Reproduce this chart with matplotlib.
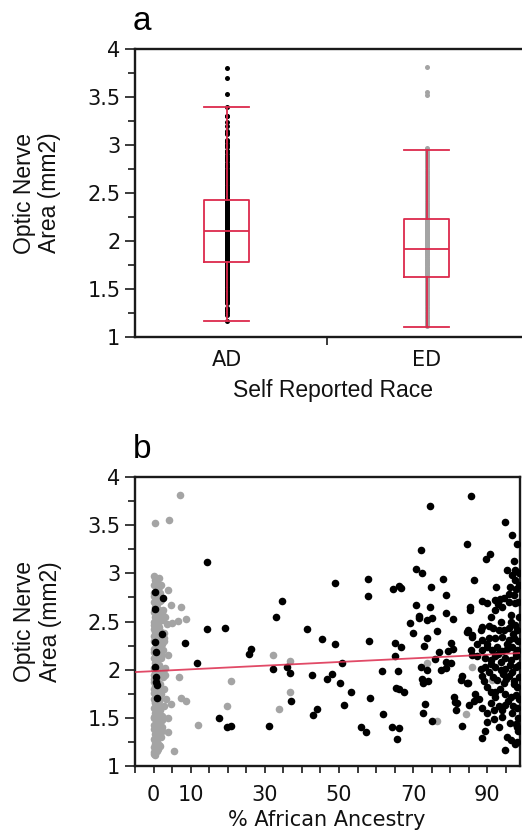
import matplotlib
matplotlib.use("Agg")
import matplotlib.pyplot as plt
from matplotlib.ticker import MultipleLocator, FormatStrFormatter
import numpy as np

# self reported race groups (panel a) and box statistics
groups = ["AD", "ED"]
box_whislo = [1.17, 1.10]
box_q1 = [1.78, 1.63]
box_med = [2.10, 1.92]
box_q3 = [2.43, 2.23]
box_whishi = [3.40, 2.95]

# AD participants (black): % African ancestry, optic nerve area
ad_x = [0.4, 2.6, 0.4, 2.2, 0.4, 0.7, 0.4, 0.6, 0.7, 1.0, 0.9,
        8.5, 11.6, 14.5, 14.5, 19.3, 17.6, 19.7, 20.8,
        25.8, 26.3, 31.2, 32.3, 33.0, 34.6, 36.1, 36.7, 37.1, 41.5, 42.7, 43.0, 44.2, 45.5, 46.9, 48.2, 48.9, 48.9,
        50.3, 50.9, 51.4, 53.3, 56.0, 57.4, 57.7, 57.8, 58.1, 58.3, 61.7, 61.9, 64.2, 64.7, 65.1, 65.1, 65.3, 65.6,
        66.0, 66.2, 66.2, 66.2, 66.6, 66.7, 67.5, 69.1,
        70.0, 70.9, 70.9, 71.6, 71.6, 72.0, 72.2, 72.4, 72.5, 72.6, 72.6, 72.8, 73.2, 73.6, 73.8, 73.8, 73.9, 74.5,
        74.5, 74.9, 75.2, 75.2, 75.8, 76.3,
        77.0, 77.4, 78.0, 78.8, 78.8, 78.8, 78.8, 79.4, 80.1, 80.3, 80.7, 80.8, 81.0, 81.2, 81.5,
        83.0, 84.4, 84.4, 86.0, 85.7, 94.9, 96.7,
        84.6, 97.9, 90.7, 89.7, 97.2, 95.4, 97.5, 96.7, 86.4, 97.5, 96.0, 97.6, 92.4, 88.6, 90.0, 92.2, 93.4, 94.5,
        93.0, 94.0, 95.8, 97.4, 95.8, 97.2, 85.3, 85.3, 92.1, 96.3, 88.6, 88.2, 90.4, 91.5, 93.1, 84.9, 86.0, 94.5,
        95.8, 97.5, 98.1, 90.4, 92.2, 94.0, 95.8, 97.2, 88.6, 87.3, 85.5, 88.6, 90.0, 91.3, 92.7, 94.0, 95.4, 96.7,
        98.1, 86.0, 87.3, 89.5, 90.9, 92.2, 93.6, 94.9, 96.3, 97.6, 88.2, 89.5, 90.4, 92.2, 93.6, 94.9, 96.7, 97.6,
        83.1, 84.9, 88.6, 89.1, 90.0, 92.7, 94.5, 95.8, 97.2, 98.1, 86.8, 87.7, 86.4, 90.9, 92.2, 94.9, 96.3, 97.6,
        81.9, 85.1, 88.6, 90.0, 90.9, 93.1, 94.0, 94.9, 96.7, 98.1, 83.1, 90.0, 91.8, 97.6, 98.1, 89.5, 88.6, 95.4,
        96.3, 98.1, 97.5, 94.8, 93.1, 93.9,
        98.5, 98.6, 98.4, 98.5, 98.3, 98.6, 98.4, 97.0, 96.0, 93.5, 91.5, 89.8, 91.0, 93.8, 96.5, 95.0, 98.6, 98.5,
        97.0, 95.2, 93.0, 91.0, 97.8, 96.2, 94.2, 92.0, 97.3, 95.5, 91.8, 98.2]
ad_y = [2.81, 2.74, 2.63, 2.37, 2.29, 2.18, 2.03, 1.92, 1.87, 1.84, 1.71,
        2.28, 2.07, 3.12, 2.42, 2.43, 1.50, 1.41, 1.42,
        2.16, 2.22, 1.42, 2.01, 2.55, 2.71, 2.03, 1.97, 1.68, 2.42, 1.95, 1.53, 1.59, 2.32, 1.90, 1.96, 2.90, 2.27,
        1.86, 2.07, 1.63, 1.77, 1.40, 1.35, 2.94, 2.77, 2.30, 1.71, 1.99, 1.54, 1.41, 2.84, 2.28, 2.14, 1.81, 1.28,
        1.99, 2.87, 1.80, 1.39, 2.24, 2.85, 1.77, 2.48,
        2.38, 3.05, 2.67, 2.56, 2.54, 2.03, 3.24, 1.90, 3.00, 1.86, 1.55, 2.25, 1.64, 2.00, 2.52, 2.33, 1.88, 3.70,
        2.65, 2.86, 2.54, 1.47, 2.11, 2.40,
        2.18, 2.00, 2.94, 2.78, 2.59, 2.08, 2.02, 2.19, 2.07, 2.28, 2.53, 2.22, 1.72, 1.66, 1.58,
        1.89, 1.86, 2.39, 2.34, 3.80, 3.53, 3.40,
        3.30, 3.30, 3.20, 3.15, 3.13, 3.04, 3.03, 2.98, 2.93, 2.93, 2.86, 2.84, 2.86, 2.71, 2.69, 2.72, 2.73, 2.74,
        2.68, 2.65, 2.70, 2.69, 2.79, 2.78, 2.65, 2.62, 2.62, 2.57, 2.44, 2.41, 2.45, 2.43, 2.41, 2.41, 2.36, 2.41,
        2.43, 2.46, 2.41, 2.33, 2.33, 2.34, 2.31, 2.33, 2.31, 2.27, 2.20, 2.20, 2.24, 2.20, 2.24, 2.19, 2.22, 2.24,
        2.20, 2.15, 2.14, 2.12, 2.10, 2.14, 2.08, 2.12, 2.10, 2.14, 2.01, 2.03, 1.98, 2.03, 2.00, 2.01, 1.98, 2.03,
        1.93, 1.86, 1.93, 1.88, 1.82, 1.89, 1.86, 1.93, 1.88, 1.82, 1.75, 1.70, 1.67, 1.77, 1.77, 1.75, 1.72, 1.74,
        1.65, 1.63, 1.60, 1.55, 1.65, 1.62, 1.58, 1.63, 1.55, 1.60, 1.42, 1.46, 1.49, 1.44, 1.41, 1.36, 1.29, 1.30,
        1.27, 1.25, 1.23, 1.17, 1.41, 1.51,
        2.05, 1.92, 2.30, 2.55, 2.70, 1.70, 1.50, 1.62, 1.45, 1.80, 1.92, 2.27, 2.55, 2.50, 2.50, 1.90, 2.88, 3.00,
        2.37, 2.27, 2.16, 2.06, 2.17, 2.05, 1.96, 1.72, 1.85, 1.68, 1.58, 1.36]

# ED participants (grey)
ed_x = [0.0, 0.5, 1.0, 0.2, 1.5, 0.8, 0.0, 1.2, 0.4, 2.0, 0.0, 0.9, 0.3, 1.6, 0.0, 1.1, 0.5, 2.4, 0.0, 1.3,
        0.6, 0.0, 1.8, 0.9, 0.2, 1.4, 0.0, 2.2, 0.7, 0.0, 1.2, 0.4, 1.9, 0.0, 1.0, 0.3, 1.6, 0.0, 0.8, 2.5,
        0.2, 1.3, 0.0, 0.9, 1.7, 0.4, 0.0, 1.1, 2.1, 0.6, 0.0, 1.4, 0.3, 0.9, 0.0, 1.8, 0.5, 1.2, 0.0, 2.3,
        0.7, 0.1, 1.5, 0.0, 0.9, 0.3, 1.9, 0.0, 1.0, 0.5, 0.0, 1.3, 0.2, 0.0, 0.4,
        0.6, 1.8, 2.6, 2.8, 2.5, 3.0, 2.7, 2.9, 2.4, 1.6, 3.2, 2.9, 3.1, 3.3, 2.2, 1.5, 2.1,
        1.1, 0.2, 1.7, 0.6, 2.3, 1.0, 0.0, 1.5, 0.4, 2.0, 0.8, 1.3, 0.1, 1.9, 0.7, 1.2, 0.3, 2.6, 0.9, 1.6,
        0.2, 1.4, 0.5, 2.1, 1.0, 0.0, 1.7, 0.6, 2.4, 1.1, 0.3, 1.8, 0.8, 1.4, 0.0, 2.0, 0.5, 1.2, 0.7, 1.5,
        0.4, 4.2, 7.2, 3.9, 4.7, 7.4, 8.7, 6.5, 4.9, 3.5, 2.9, 3.8, 6.9, 7.3, 8.7, 4.7, 3.9, 3.9, 5.6,
        11.9, 19.9, 20.8, 32.1, 33.8, 36.8, 36.8, 73.6, 76.5, 84.2, 85.8, 91.3]
ed_y = [2.97, 2.93, 2.90, 2.88, 2.86, 2.84, 2.80, 2.78, 2.75, 2.72, 2.70, 2.68, 2.65, 2.62, 2.60, 2.57, 2.55,
        2.52, 2.50, 2.48, 2.45, 2.42, 2.40, 2.37, 2.35, 2.32, 2.30, 2.27, 2.25, 2.22, 2.20, 2.17, 2.14, 2.12,
        2.10, 2.07, 2.05, 2.02, 2.00, 1.98, 1.95, 1.93, 1.90, 1.88, 1.85, 1.83, 1.80, 1.78, 1.75, 1.73, 1.70,
        1.68, 1.65, 1.63, 1.60, 1.58, 1.55, 1.53, 1.50, 1.48, 1.45, 1.43, 1.40, 1.38, 1.35, 1.33, 1.30, 1.28,
        1.25, 1.23, 1.20, 1.18, 1.15, 1.13, 1.11,
        2.91, 2.80, 2.62, 2.38, 2.20, 2.02, 1.80, 1.62, 1.40, 1.22, 2.55, 2.30, 1.95, 1.70, 1.52, 2.95, 2.88,
        2.82, 2.77, 2.71, 2.66, 2.59, 2.53, 2.46, 2.44, 2.39, 2.33, 2.28, 2.24, 2.18, 2.15, 2.09, 2.03, 1.99,
        1.92, 1.86, 1.81, 1.76, 1.71, 1.66, 1.61, 1.56, 1.51, 1.46, 1.41, 1.36, 1.31, 1.26, 1.21, 1.16, 1.52,
        1.87, 2.12, 2.36, 2.58, 2.73, 1.97,
        3.52, 3.55, 3.81, 2.83, 2.67, 2.65, 2.53, 2.51, 2.48, 2.47, 2.33, 2.15, 1.92, 1.71, 1.67, 1.64, 1.50,
        1.35, 1.16, 1.43, 1.62, 1.88, 2.15, 1.59, 2.09, 1.77, 2.07, 1.47, 1.54, 2.03, 1.89]

# regression line in panel b
fit_intercept = 1.985
fit_slope = 0.0019

x_tick_values = [0, 10, 30, 50, 70, 90]
x_tick_labels = ["0", "10", "30", "50", "70", "90"]

RED = "#dc2a4c"
GREY = "#a4a4a4"
SPINE = "#1a1a1a"
LABEL_FONT = "Liberation Sans"
TICK_FONT = "DejaVu Sans"


def style_y(ax):
    ax.set_ylim(1, 4)
    ax.yaxis.set_major_locator(MultipleLocator(0.5))
    ax.yaxis.set_minor_locator(MultipleLocator(0.25))
    ax.yaxis.set_major_formatter(FormatStrFormatter("%g"))
    ax.tick_params(axis="y", which="major", length=7.5, width=1.2, pad=3, color=SPINE,
                   labelsize=15, labelcolor="#111111")
    ax.tick_params(axis="y", which="minor", length=4.8, width=1.2, color=SPINE)
    for lab in ax.get_yticklabels():
        lab.set_family(TICK_FONT)
    for s in ax.spines.values():
        s.set_linewidth(1.7)
        s.set_color(SPINE)
    ax.set_ylabel("Optic Nerve\nArea (mm2)", fontsize=16.5, family=LABEL_FONT,
                  linespacing=1.15, color="#111111")
    ax.yaxis.set_label_coords(-0.19, 0.5)


fig = plt.figure(figsize=(5.22, 8.33), dpi=100)

# ---- panel a: box plot by self reported race
ax_a = fig.add_axes([0.2586, 0.5954, 0.7414, 0.3457])
ax_a.scatter(np.zeros(len(ad_y)), ad_y, s=13, c="black", linewidths=0, zorder=2)
ax_a.scatter(np.ones(len(ed_y)), ed_y, s=13, c=GREY, linewidths=0, zorder=2)

stats = []
for i, g in enumerate(groups):
    stats.append(dict(label=g, whislo=box_whislo[i], q1=box_q1[i], med=box_med[i],
                      q3=box_q3[i], whishi=box_whishi[i], fliers=[]))
line_kw = dict(color=RED, linewidth=1.3)
ax_a.bxp(stats, positions=[0, 1], widths=0.225, capwidths=0.225, showfliers=False,
         boxprops=line_kw, whiskerprops=line_kw, capprops=line_kw, medianprops=line_kw,
         manage_ticks=False, zorder=3)

ax_a.set_xlim(-0.46, 1.475)
ax_a.set_xticks([0, 1])
ax_a.set_xticklabels(groups, family=TICK_FONT, fontsize=15, color="#111111")
ax_a.set_xticks([0.5], minor=True)
ax_a.tick_params(axis="x", which="major", length=0, pad=9)
ax_a.tick_params(axis="x", which="minor", length=6, width=1.2, color=SPINE)
style_y(ax_a)
ax_a.spines["right"].set_visible(False)
fig.text(333 / 522, 1 - 397 / 833, "Self Reported Race", ha="center", va="baseline",
         fontsize=16.5, family=LABEL_FONT, color="#111111")
fig.text(133 / 522, 1 - 30 / 833, "a", fontsize=24, family=LABEL_FONT, va="baseline")

# ---- panel b: optic nerve area vs % African ancestry
ax_b = fig.add_axes([0.2586, 0.0804, 0.7375, 0.3469])
ax_b.scatter(ed_x, ed_y, s=30, c=GREY, linewidths=0, zorder=2)
ax_b.scatter(ad_x, ad_y, s=30, c="black", linewidths=0, zorder=3)
xlim = (-5, 98.8)
xs = np.array(xlim)
ax_b.plot(xs, fit_intercept + fit_slope * xs, color=RED, linewidth=1.3, alpha=0.85, zorder=4)
ax_b.set_xlim(*xlim)
ax_b.set_xticks(x_tick_values)
ax_b.set_xticklabels(x_tick_labels, family=TICK_FONT, fontsize=15, color="#111111")
ax_b.xaxis.set_minor_locator(MultipleLocator(5))
ax_b.tick_params(axis="x", which="both", length=5, width=1.2, color=SPINE, pad=9)
style_y(ax_b)
fig.text(327 / 522, 1 - 826 / 833, "% African Ancestry", ha="center", va="baseline",
         fontsize=15, family=TICK_FONT, color="#111111")
fig.text(133 / 522, 1 - 458 / 833, "b", fontsize=24, family=LABEL_FONT, va="baseline")

fig.savefig("out.png", dpi=100)
